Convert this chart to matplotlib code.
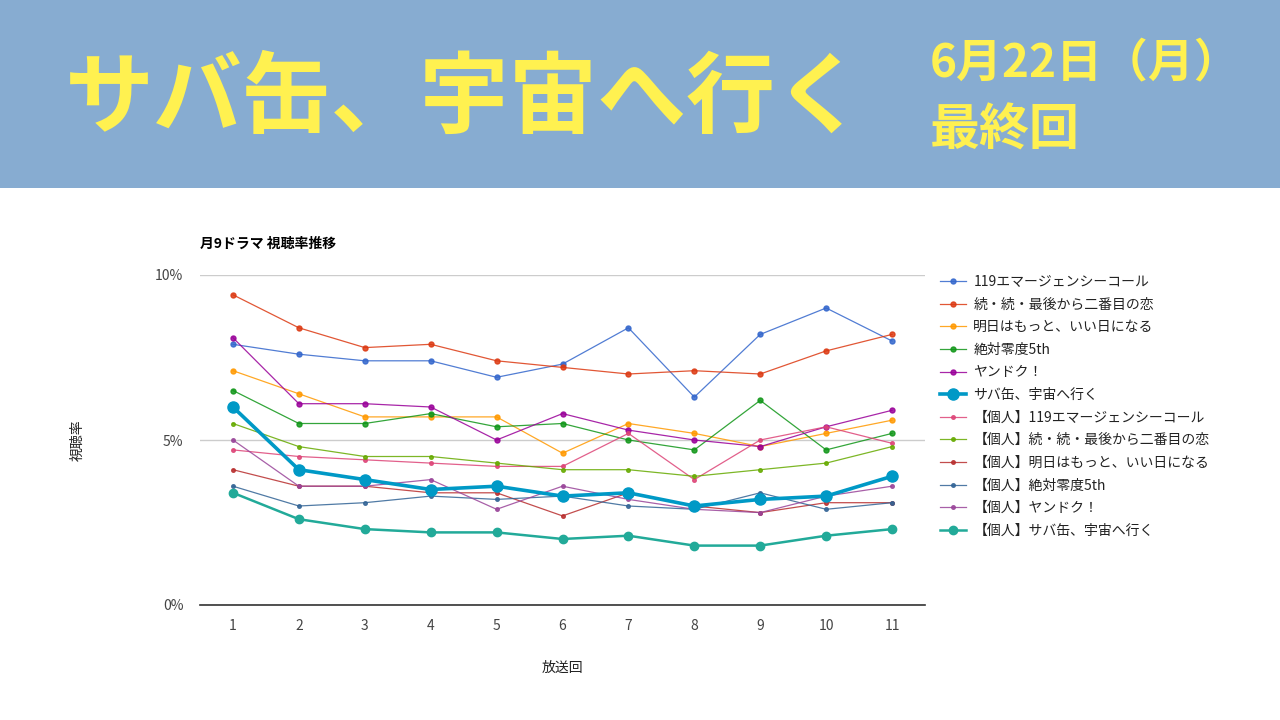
import matplotlib
matplotlib.use("Agg")
import matplotlib.pyplot as plt
from matplotlib.patches import Rectangle
from matplotlib.ticker import FixedLocator

plt.rcParams['font.family'] = ['Noto Sans CJK JP', 'DejaVu Sans']

episodes = [1, 2, 3, 4, 5, 6, 7, 8, 9, 10, 11]

names = [
    "119エマージェンシーコール",
    "続・続・最後から二番目の恋",
    "明日はもっと、いい日になる",
    "絶対零度5th",
    "ヤンドク！",
    "サバ缶、宇宙へ行く",
    "【個人】119エマージェンシーコール",
    "【個人】続・続・最後から二番目の恋",
    "【個人】明日はもっと、いい日になる",
    "【個人】絶対零度5th",
    "【個人】ヤンドク！",
    "【個人】サバ缶、宇宙へ行く",
]

r119 = [7.9, 7.6, 7.4, 7.4, 6.9, 7.3, 8.4, 6.3, 8.2, 9.0, 8.0]
rzoku = [9.4, 8.4, 7.8, 7.9, 7.4, 7.2, 7.0, 7.1, 7.0, 7.7, 8.2]
rashita = [7.1, 6.4, 5.7, 5.7, 5.7, 4.6, 5.5, 5.2, 4.8, 5.2, 5.6]
rzettai = [6.5, 5.5, 5.5, 5.8, 5.4, 5.5, 5.0, 4.7, 6.2, 4.7, 5.2]
ryandoku = [8.1, 6.1, 6.1, 6.0, 5.0, 5.8, 5.3, 5.0, 4.8, 5.4, 5.9]
rsaba = [6.0, 4.1, 3.8, 3.5, 3.6, 3.3, 3.4, 3.0, 3.2, 3.3, 3.9]
p119 = [4.7, 4.5, 4.4, 4.3, 4.2, 4.2, 5.2, 3.8, 5.0, 5.4, 4.9]
pzoku = [5.5, 4.8, 4.5, 4.5, 4.3, 4.1, 4.1, 3.9, 4.1, 4.3, 4.8]
pashita = [4.1, 3.6, 3.6, 3.4, 3.4, 2.7, 3.4, 3.0, 2.8, 3.1, 3.1]
pzettai = [3.6, 3.0, 3.1, 3.3, 3.2, 3.3, 3.0, 2.9, 3.4, 2.9, 3.1]
pyandoku = [5.0, 3.6, 3.6, 3.8, 2.9, 3.6, 3.2, 2.9, 2.8, 3.3, 3.6]
psaba = [3.4, 2.6, 2.3, 2.2, 2.2, 2.0, 2.1, 1.8, 1.8, 2.1, 2.3]

series = [r119, rzoku, rashita, rzettai, ryandoku, rsaba,
          p119, pzoku, pashita, pzettai, pyandoku, psaba]

colors = ["#3366cc", "#dc3912", "#ff9900", "#109618", "#990099", "#0099c6",
          "#dd4477", "#66aa00", "#b82e2e", "#316395", "#994499", "#22aa99"]

yticks = [0, 5, 10]
ytick_labels = ["0%", "5%", "10%"]

fig = plt.figure(figsize=(12.8, 7.2), dpi=100)
fig.patch.set_facecolor("white")

# header band
fig.patches.append(Rectangle((0, 1 - 188 / 720), 1, 188 / 720, transform=fig.transFigure,
                             facecolor="#87acd1", edgecolor="none", zorder=0))
fig.text(65 / 1280, 1 - 100 / 720, "サバ缶、宇宙へ行く", fontsize=64, fontweight="bold",
         color="#fff150", ha="left", va="center")
fig.text(930 / 1280, 1 - 63 / 720, "6月22日（月）", fontsize=33, fontweight="bold",
         color="#fff150", ha="left", va="center")
fig.text(930 / 1280, 1 - 131 / 720, "最終回", fontsize=36, fontweight="bold",
         color="#fff150", ha="left", va="center")

ax = fig.add_axes([200 / 1280, 1 - 605 / 720, 725 / 1280, 330 / 720])
for i, (name, vals, c) in enumerate(zip(names, series, colors)):
    if i == 5:
        ax.plot(episodes, vals, color=c, lw=2.6, marker="o", ms=8, label=name, zorder=5)
    elif i == 11:
        ax.plot(episodes, vals, color=c, lw=1.8, marker="o", ms=6, label=name, zorder=4)
    elif i < 5:
        ax.plot(episodes, vals, color=c, lw=0.9, marker="o", ms=3.6, label=name, alpha=0.85, zorder=3)
    else:
        ax.plot(episodes, vals, color=c, lw=0.9, marker="o", ms=2.6, label=name, alpha=0.85, zorder=3)

ax.set_xlim(0.5, 11.5)
ax.set_ylim(0, 10)
ax.xaxis.set_major_locator(FixedLocator(episodes))
ax.set_xticklabels([str(e) for e in episodes])
ax.yaxis.set_major_locator(FixedLocator(yticks))
ax.set_yticklabels(ytick_labels)
ax.tick_params(axis="both", length=0, labelsize=10, labelcolor="#444444")
ax.tick_params(axis="x", pad=10)
ax.tick_params(axis="y", pad=12)
ax.grid(axis="y", color="#cccccc", lw=1)
ax.set_axisbelow(True)
for s in ["top", "right", "left"]:
    ax.spines[s].set_visible(False)
ax.spines["bottom"].set_color("#333333")
ax.spines["bottom"].set_linewidth(1.2)

fig.text(200 / 1280, 1 - 244 / 720, "月9ドラマ 視聴率推移", fontsize=10, fontweight="bold",
         color="#000000", ha="left", va="center")
fig.text(78 / 1280, 1 - 440 / 720, "視聴率", fontsize=10, style="italic", rotation=90,
         color="#222222", ha="center", va="center")
fig.text(562 / 1280, 1 - 668 / 720, "放送回", fontsize=10, style="italic",
         color="#222222", ha="center", va="center")

leg = ax.legend(loc="upper left", bbox_to_anchor=(940 / 1280, 1 - 275 / 720),
                bbox_transform=fig.transFigure, frameon=False, fontsize=10,
                handlelength=1.85, handletextpad=0.55, labelspacing=0.62, borderaxespad=0,
                borderpad=0)
for t in leg.get_texts():
    t.set_color("#222222")

fig.savefig("out.png", dpi=100, facecolor=fig.get_facecolor())
